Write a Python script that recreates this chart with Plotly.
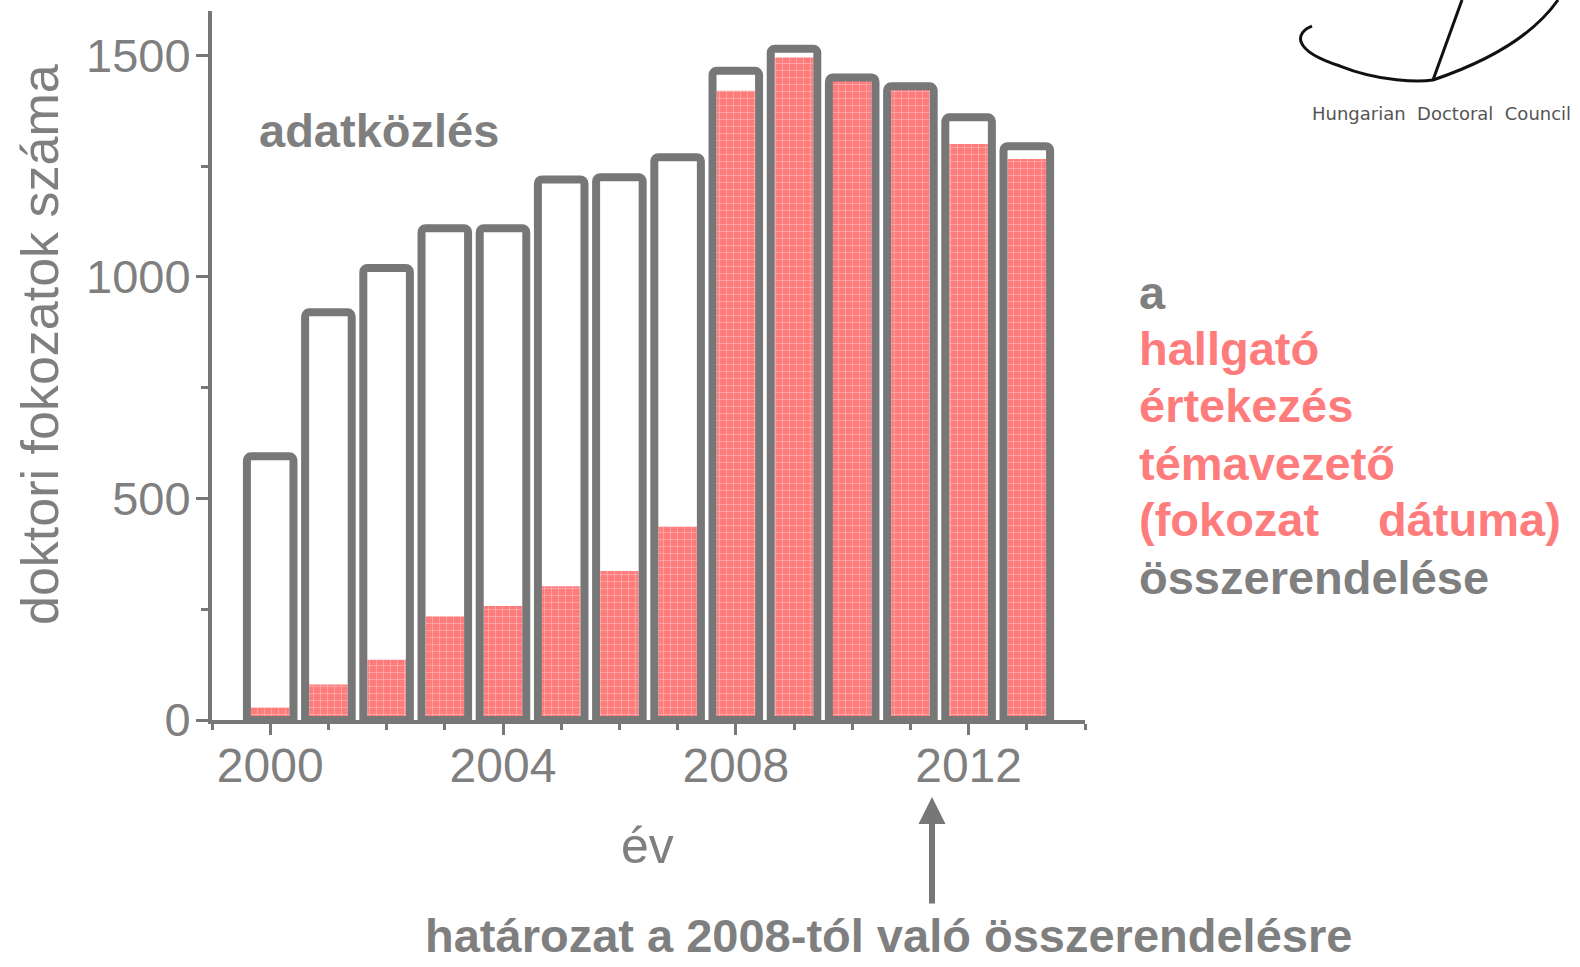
import plotly.graph_objects as go

# data
years = [2000, 2001, 2002, 2003, 2004, 2005, 2006, 2007, 2008, 2009, 2010, 2011, 2012, 2013]
total_degrees = [595, 920, 1020, 1110, 1110, 1220, 1225, 1270, 1465, 1515, 1450, 1430, 1360, 1295]
matched_degrees = [28, 80, 136, 234, 257, 302, 336, 436, 1420, 1495, 1450, 1430, 1300, 1266]
x_tick_labels = ["2000", "2004", "2008", "2012"]
x_tick_vals = [2000, 2004, 2008, 2012]
y_tick_vals = [0, 500, 1000, 1500]

W, H = 1580, 967
L, R, T, B = 212, 495, 11, 247

GRAY = "#777777"
TXT_GRAY = "#7f7f7f"
RED = "#ff7c7c"
FONT = "Liberation Sans, Arial, sans-serif"


def px(x):
    return (x - L) / (W - L - R)


def py(y):
    return (H - B - y) / (H - T - B)


fig = go.Figure()
fig.add_trace(go.Bar(
    x=years, y=matched_degrees, width=0.66,
    marker=dict(color=RED, line=dict(width=0),
                pattern=dict(shape="+", fgcolor="white", fgopacity=0.55, size=7, solidity=0.14)),
    hoverinfo="x+y", showlegend=False,
))
fig.add_trace(go.Bar(
    x=years, y=total_degrees, width=0.8,
    marker=dict(color="rgba(0,0,0,0)", line=dict(color=GRAY, width=8), cornerradius=4),
    hoverinfo="x+y", showlegend=False,
))

fig.update_layout(
    width=W, height=H,
    margin=dict(l=L, r=R, t=T, b=B, autoexpand=False),
    barmode="overlay",
    plot_bgcolor="white", paper_bgcolor="white",
    font=dict(family=FONT, color=TXT_GRAY),
)
fig.update_xaxes(
    range=[1999, 2014], showgrid=False, zeroline=False,
    showline=True, linecolor=GRAY, linewidth=4,
    tickvals=x_tick_vals, ticktext=x_tick_labels,
    ticks="outside", ticklen=11, tickwidth=3, tickcolor=GRAY,
    tickfont=dict(size=48, color=TXT_GRAY), ticklabelstandoff=-11,
    minor=dict(dtick=1, tick0=2000, ticks="outside", ticklen=6, tickwidth=3, tickcolor=GRAY),
)
fig.update_yaxes(
    range=[0, 1600], showgrid=False, zeroline=False,
    showline=True, linecolor=GRAY, linewidth=4,
    tickvals=y_tick_vals,
    ticks="outside", ticklen=12, tickwidth=3, tickcolor=GRAY,
    tickfont=dict(size=47, color=TXT_GRAY), ticklabelstandoff=-4,
    minor=dict(dtick=250, ticks="outside", ticklen=7, tickwidth=3, tickcolor=GRAY),
)

ann = []
# axis titles
ann.append(dict(text="doktori fokozatok száma", x=px(40), y=py(345), textangle=-90,
                font=dict(size=52, color=TXT_GRAY)))
ann.append(dict(text="év", x=px(647), y=py(846), font=dict(size=50, color=TXT_GRAY)))
ann.append(dict(text="<b>adatközlés</b>", x=px(379), y=py(131), font=dict(size=47, color=TXT_GRAY)))

# right text block
right_lines = [("a", TXT_GRAY, 292), ("hallgató", RED, 348), ("értekezés", RED, 405),
               ("témavezető", RED, 463), ("(fokozat", RED, 519), ("összerendelése", TXT_GRAY, 577)]
for txt, col, yy in right_lines:
    ann.append(dict(text="<b>" + txt + "</b>", x=px(1137), y=py(yy), xanchor="left",
                    font=dict(size=47, color=col)))
ann.append(dict(text="<b>dátuma)</b>", x=px(1563), y=py(519), xanchor="right",
                font=dict(size=47, color=RED)))

# bottom note and arrow
ann.append(dict(text="<b>határozat a 2008-tól való összerendelésre</b>", x=px(888), y=py(935),
                font=dict(size=47, color=TXT_GRAY,
                          family="Liberation Sans Narrow, Arial Narrow, Liberation Sans")))
ann.append(dict(text="", x=px(932), y=py(797), ax=0, ay=905 - 797, axref="pixel", ayref="pixel",
                showarrow=True, arrowhead=2, arrowsize=0.9, arrowwidth=6, arrowcolor=GRAY))

# logo caption
ann.append(dict(text="Hungarian  Doctoral  Council", x=px(1441), y=py(113),
                font=dict(size=18, color="#555555", family="DejaVu Sans, sans-serif")))

for a in ann:
    a.setdefault("xref", "paper")
    a.setdefault("yref", "paper")
    a.setdefault("xanchor", "center")
    a.setdefault("yanchor", "middle")
    a.setdefault("showarrow", False)
    fig.add_annotation(**a)


# logo strokes
def pth(points):
    (x0, y0), rest = points[0], points[1:]
    s = "M %.4f %.4f" % (px(x0), py(y0))
    for i in range(0, len(rest), 3):
        c1, c2, e = rest[i:i + 3]
        s += " C %.4f %.4f %.4f %.4f %.4f %.4f" % (px(c1[0]), py(c1[1]), px(c2[0]), py(c2[1]), px(e[0]), py(e[1]))
    return s


logo_curve = [(1312, 26), (1296, 32), (1290, 50), (1340, 66),
              (1380, 82), (1420, 82), (1433, 80),
              (1480, 64), (1530, 40), (1558, 0)]
fig.add_shape(type="path", xref="paper", yref="paper", path=pth(logo_curve),
              line=dict(color="#111111", width=3))
fig.add_shape(type="line", xref="paper", yref="paper", x0=px(1433), y0=py(80), x1=px(1462), y1=py(0),
              line=dict(color="#111111", width=3))

fig.write_html("out.html", config={"displayModeBar": False},
               post_script="document.body.style.margin='0';document.body.style.overflow='hidden';")
